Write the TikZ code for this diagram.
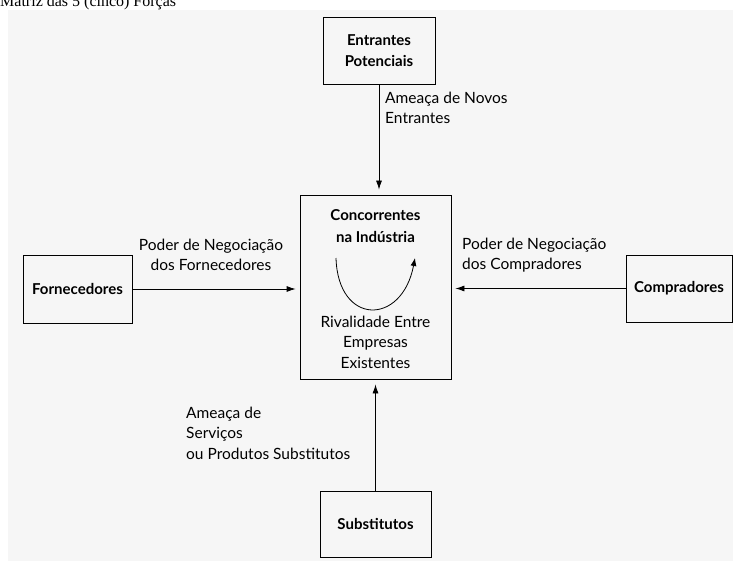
\documentclass[tikz,border=0pt]{standalone}
\usepackage{fontspec}
\setmainfont{Liberation Serif}
\newfontfamily\diagfont{Lato}
\usetikzlibrary{arrows.meta}
\begin{document}
\begin{tikzpicture}[x=1pt, y=-1pt,
  every node/.style={font=\diagfont\fontsize{15.5}{20.5}\selectfont, inner sep=0pt},
  forcebox/.style={draw, thick, font=\diagfont\bfseries\fontsize{15}{21}\selectfont, align=center},
  forcearrow/.style={-{Latex[length=9pt, width=6pt]}, thick}]
\useasboundingbox (0,0) rectangle (733,561);
\fill[gray!7] (8,10) rectangle (733,561);
\node[anchor=base west, font=\fontsize{16}{18}\selectfont] (title) at (0,7) {Matriz das 5 (cinco) Forças};
% boxes
\node[forcebox, minimum width=112pt, minimum height=67pt] (entrantes) at (379,50.5) {Entrantes\\Potenciais};
\node[forcebox, minimum width=151pt, minimum height=184pt] (industria) at (375.5,287) {};
\node[forcebox, minimum width=109pt, minimum height=68pt] (fornecedores) at (77.5,289) {Fornecedores};
\node[forcebox, minimum width=106pt, minimum height=67pt] (compradores) at (679,288.5) {Compradores};
\node[forcebox, minimum width=111pt, minimum height=66pt] (substitutos) at (375.5,524) {Substitutos};
% center box contents
\node[font=\diagfont\bfseries\fontsize{15}{22}\selectfont, align=center] (concorrentes) at (375.5,226) {Concorrentes\\na Indústria};
\node[align=center] (rivalidade) at (375.5,342) {Rivalidade Entre\\Empresas\\Existentes};
\coordinate (rivA) at (336,258);
\coordinate (rivB) at (415,258);
\draw[-{Latex[length=8pt, width=6pt]}, thick] (rivA) .. controls (338,326) and (402,326) .. (rivB);
% arrows
\draw[forcearrow, shorten >=5pt] (entrantes.south) -- (entrantes.south |- industria.north);
\draw[forcearrow, shorten >=4pt] (fornecedores.east) -- (industria.west |- fornecedores.east);
\draw[forcearrow, shorten >=4pt] (compradores.west) -- (industria.east |- compradores.west);
\draw[forcearrow, shorten >=5pt] (substitutos.north) -- (substitutos.north |- industria.south);
% labels
\node[anchor=west, align=left] (novos) at (385,108) {Ameaça de Novos\\Entrantes};
\node[align=center] (podforn) at (211,255) {Poder de Negociação\\dos Fornecedores};
\node[anchor=west, align=left] (podcomp) at (462,255) {Poder de Negociação\\dos Compradores};
\node[anchor=west, align=left] (servicos) at (186,433) {Ameaça de\\Serviços\\ou Produtos Substitutos};
\end{tikzpicture}
\end{document}
